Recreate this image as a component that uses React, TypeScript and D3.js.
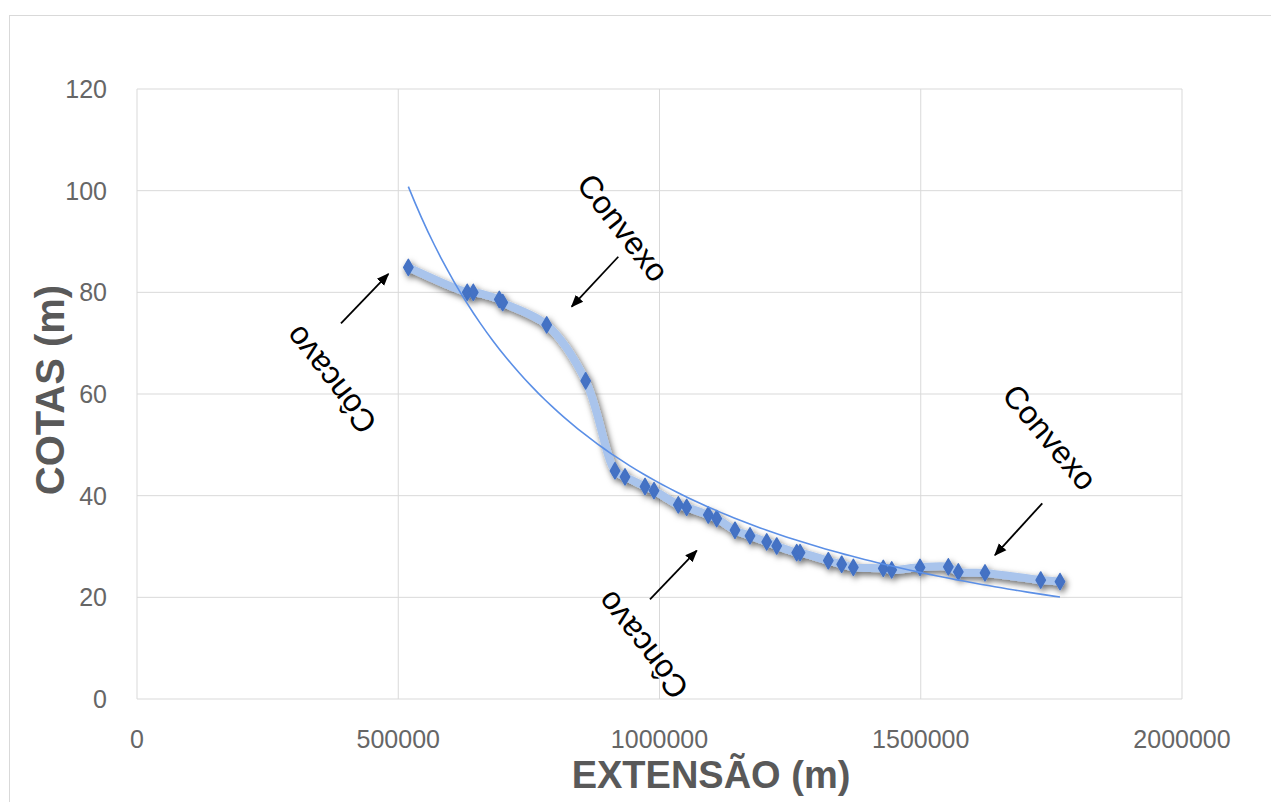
import React, { useEffect } from 'react';
import * as d3 from 'd3';

// perfil longitudinal: extensão (m) x cota (m)
const EXTENSAO = [
  519300, 632000, 643600, 693400, 699900, 784100, 858700, 914800, 934000, 972300, 989500,
  1036000, 1052000, 1093400, 1109500, 1144500, 1173200, 1205200, 1224300, 1262600, 1269000,
  1323100, 1348700, 1371000, 1428300, 1444400, 1498600, 1552800, 1571900, 1623000, 1729600, 1766500,
];
const COTAS = [
  84.9, 80.0, 80.0, 78.6, 78.0, 73.6, 62.6, 44.9, 43.7, 41.8, 41.0,
  38.2, 37.7, 36.2, 35.5, 33.2, 32.1, 30.9, 30.1, 28.8, 28.8,
  27.2, 26.5, 25.9, 25.7, 25.4, 25.9, 26.0, 25.0, 24.8, 23.4, 23.1,
];
const X_TICKS = [0, 500000, 1000000, 1500000, 2000000];
const Y_TICKS = [0, 20, 40, 60, 80, 100, 120];

// anotações (em unidades do gráfico)
const LABELS = [
  { text: 'Convexo', x: 930000, y: 92.7, angle: 52 },
  { text: 'Côncavo', x: 371000, y: 62.8, angle: 232 },
  { text: 'Convexo', x: 1747000, y: 51.5, angle: 50 },
  { text: 'Côncavo', x: 968000, y: 10.6, angle: 232 },
];
const ARROWS = [
  { x1: 390400, y1: 73.9, x2: 481000, y2: 83.6 },
  { x1: 921100, y1: 87.0, x2: 832000, y2: 77.2 },
  { x1: 1732600, y1: 38.5, x2: 1642100, y2: 28.3 },
  { x1: 981800, y1: 19.6, x2: 1071200, y2: 29.2 },
];

const W = 1271;
const H = 802;
const plot = { left: 137, right: 1182, top: 89, bottom: 699 };
const FONT = '"Liberation Sans", Arial, sans-serif';

export default function App() {
  useEffect(() => {
    document.body.style.margin = '0';
  }, []);

  const x = d3.scaleLinear().domain([0, 2000000]).range([plot.left, plot.right]);
  const y = d3.scaleLinear().domain([0, 120]).range([plot.bottom, plot.top]);

  const pts: [number, number][] = EXTENSAO.map((e, i) => [e, COTAS[i]]);
  const line = d3.line<[number, number]>()
    .x(d => x(d[0])).y(d => y(d[1]))
    .curve(d3.curveCatmullRom.alpha(0.5));

  // linha de tendência de potência (mínimos quadrados em log-log)
  const lx = EXTENSAO.map(Math.log);
  const ly = COTAS.map(Math.log);
  const mx = d3.mean(lx)!;
  const my = d3.mean(ly)!;
  const b = d3.sum(lx, (v, i) => (v - mx) * (ly[i] - my)) / d3.sum(lx, v => (v - mx) ** 2);
  const a = Math.exp(my - b * mx);
  const [x0, x1] = d3.extent(EXTENSAO) as [number, number];
  const trend = d3.range(0, 101).map(k => {
    const e = x0 + (x1 - x0) * k / 100;
    return [e, a * Math.pow(e, b)] as [number, number];
  });
  const trendLine = d3.line<[number, number]>().x(d => x(d[0])).y(d => y(d[1]));

  const diamond = d3.symbol(d3.symbolDiamond, 75)();

  return (
    <svg width={W} height={H} style={{ display: 'block', background: '#fff' }}>
      <defs>
        <filter id="sombra" x="-10%" y="-10%" width="120%" height="130%">
          <feDropShadow dx="2" dy="3" stdDeviation="3" floodColor="#000" floodOpacity="0.6" />
        </filter>
        <marker id="seta" viewBox="0 0 10 10" refX="9" refY="5" markerWidth="7" markerHeight="7" orient="auto">
          <path d="M0,1 L10,5 L0,9 z" fill="#000" />
        </marker>
      </defs>
      <rect x={9.5} y={15.5} width={1400} height={900} fill="#fff" stroke="#d9d9d9" />

      {Y_TICKS.map(t => (
        <g key={'y' + t}>
          <line x1={plot.left} x2={plot.right} y1={y(t)} y2={y(t)} stroke="#d9d9d9" strokeWidth={1} />
          <text x={107} y={y(t)} textAnchor="end" dominantBaseline="central" fontFamily={FONT} fontSize={25} fill="#666">{t}</text>
        </g>
      ))}
      {X_TICKS.map(t => (
        <g key={'x' + t}>
          <line x1={x(t)} x2={x(t)} y1={plot.top} y2={plot.bottom} stroke="#d9d9d9" strokeWidth={1} />
          <text x={x(t)} y={748} textAnchor="middle" fontFamily={FONT} fontSize={25} fill="#666">{t}</text>
        </g>
      ))}

      <g filter="url(#sombra)">
        <path d={line(pts)!} fill="none" stroke="#a9c4ec" strokeWidth={8} strokeLinejoin="round" strokeLinecap="round" />
        {pts.map((p, i) => (
          <path key={i} d={diamond!} transform={`translate(${x(p[0])},${y(p[1])})`} fill="#4472c4" stroke="#4472c4" strokeWidth={1.5} strokeLinejoin="round" />
        ))}
      </g>
      <path d={trendLine(trend)!} fill="none" stroke="#5b8fe6" strokeWidth={1.6} />

      {ARROWS.map((ar, i) => (
        <line key={i} x1={x(ar.x1)} y1={y(ar.y1)} x2={x(ar.x2)} y2={y(ar.y2)} stroke="#000" strokeWidth={1.8} markerEnd="url(#seta)" />
      ))}
      {LABELS.map((l, i) => (
        <text key={i} transform={`translate(${x(l.x)},${y(l.y)}) rotate(${l.angle})`} textAnchor="middle" dominantBaseline="central"
          fontFamily={FONT} fontSize={32} fill="#000">{l.text}</text>
      ))}

      <text x={711} y={788} textAnchor="middle" fontFamily={FONT} fontWeight="bold" fontSize={38} fill="#595959">EXTENSÃO (m)</text>
      <text transform={`translate(64,390) rotate(-90)`} textAnchor="middle" fontFamily={FONT} fontWeight="bold" fontSize={40} fill="#595959">COTAS (m)</text>
    </svg>
  );
}
